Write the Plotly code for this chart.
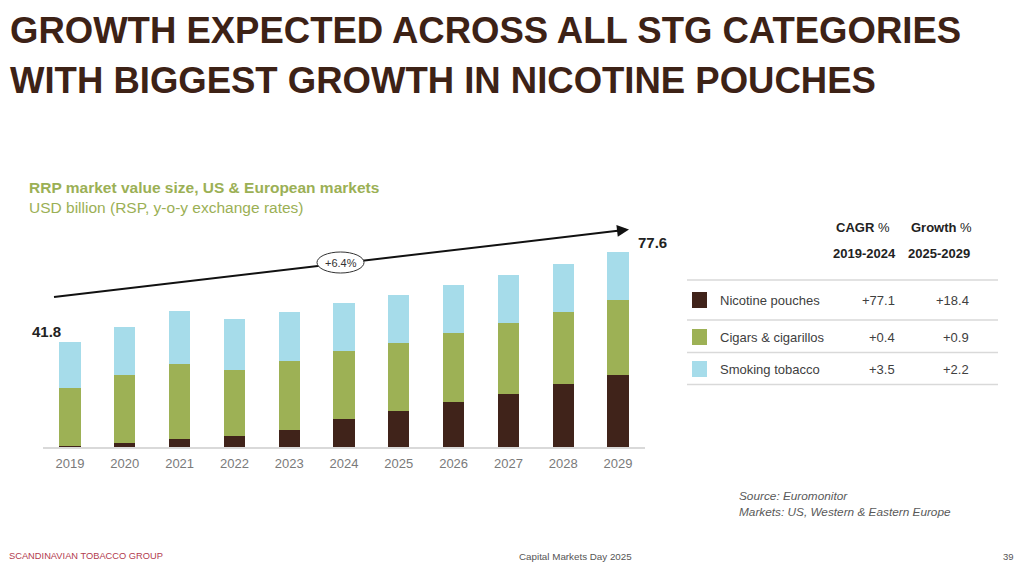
import plotly.graph_objects as go

W, H = 1022, 572

years = ["2019", "2020", "2021", "2022", "2023", "2024", "2025", "2026", "2027", "2028", "2029"]
nicotine = [0.4, 1.5, 3.1, 4.4, 6.9, 11.0, 14.5, 17.8, 21.2, 25.0, 28.8]
cigars = [23.1, 27.2, 29.8, 26.2, 27.4, 27.3, 27.0, 27.7, 28.2, 28.9, 29.6]
smoking = [18.3, 19.1, 21.4, 20.3, 19.6, 19.0, 18.9, 19.0, 19.0, 19.1, 19.2]

categories = ["Nicotine pouches", "Cigars & cigarillos", "Smoking tobacco"]
cagr_2019_2024 = ["+77.1", "+0.4", "+3.5"]
growth_2025_2029 = ["+18.4", "+0.9", "+2.2"]
cagr_label = "+6.4%"

BROWN = "#40231a"
GREEN = "#9db155"
BLUE = "#a6dcea"
colors = [BROWN, GREEN, BLUE]
TITLE_C = "#3d2216"
SUB_C = "#9bb055"
GRAY = "#7a7a7a"
DARK = "#404040"
FONT = "Liberation Sans, Arial, sans-serif"


def fx(px):
    return px / W


def fy(py):
    return 1 - py / H


def text(t, px, py, size, color, xanchor="center", family=FONT):
    return dict(text=t, x=fx(px), y=fy(py), xref="paper", yref="paper", xanchor=xanchor, yanchor="middle",
                showarrow=False, font=dict(family=family, size=size, color=color))


fig = go.Figure()
for name, vals, c in zip(categories, [nicotine, cigars, smoking], colors):
    fig.add_trace(go.Bar(x=years, y=vals, name=name, marker=dict(color=c, line=dict(width=0)),
                         width=0.39, showlegend=False))

totals = [a + b + c for a, b, c in zip(nicotine, cigars, smoking)]

ann = []
shapes = []

# Title
title_lines = ["GROWTH EXPECTED ACROSS ALL STG CATEGORIES", "WITH BIGGEST GROWTH IN NICOTINE POUCHES"]
for i, t in enumerate(title_lines):
    ann.append(text("<b>%s</b>" % t, 8, 30 + i * 50, 36.5, TITLE_C, xanchor="left"))

# Subtitle
ann.append(text("<b>RRP market value size, US & European markets</b>", 27, 188, 15.5, SUB_C, xanchor="left"))
ann.append(text("USD billion (RSP, y-o-y exchange rates)", 27, 207, 15.5, SUB_C, xanchor="left"))

# First / last totals
ann.append(dict(text="<b>%.1f</b>" % totals[0], x=0, y=totals[0], xref="x", yref="y", xanchor="center",
                yanchor="middle", xshift=-24, yshift=11, showarrow=False,
                font=dict(family=FONT, size=15, color="#222")))
ann.append(dict(text="<b>%.1f</b>" % totals[-1], x=len(years) - 1, y=totals[-1], xref="x", yref="y",
                xanchor="center", yanchor="middle", xshift=34, yshift=10, showarrow=False,
                font=dict(family=FONT, size=15, color="#222")))

# CAGR arrow line (paper coordinates)
x0, y0, x1, y1 = 54, 297, 624, 230
shapes.append(dict(type="line", xref="paper", yref="paper", x0=fx(x0), y0=fy(y0), x1=fx(x1), y1=fy(y1),
                   line=dict(color="#111", width=2), layer="above"))
ann.append(dict(text="", x=fx(629), y=fy(229.4), ax=-14, ay=1.7, xref="paper", yref="paper",
                axref="pixel", ayref="pixel", showarrow=True, arrowhead=2, arrowsize=1.2, arrowwidth=2,
                arrowcolor="#111"))
shapes.append(dict(type="circle", xref="paper", yref="paper", x0=fx(317), x1=fx(364), y0=fy(252), y1=fy(273),
                   fillcolor="white", line=dict(color="#333", width=1), layer="above"))
ann.append(text(cagr_label, 340.5, 262.5, 11, "#333"))

# Table
ann.append(text("<b>CAGR</b> %", 863, 228, 13, "#222"))
ann.append(text("<b>Growth</b> %", 941, 228, 13, "#222"))
ann.append(text("<b>2019-2024</b>", 864, 253, 13, "#222"))
ann.append(text("<b>2025-2029</b>", 939, 253, 13, "#222"))

for ly in [280, 320, 352.5, 384.5]:
    shapes.append(dict(type="line", xref="paper", yref="paper", x0=fx(687), x1=fx(998), y0=fy(ly), y1=fy(ly),
                       line=dict(color="#d9d9d9", width=1.5)))

row_y = [300, 337, 369]
for name, c, a, g, ry in zip(categories, colors, cagr_2019_2024, growth_2025_2029, row_y):
    shapes.append(dict(type="rect", xref="paper", yref="paper", x0=fx(692), x1=fx(707), y0=fy(ry - 8), y1=fy(ry + 8),
                       fillcolor=c, line=dict(width=0)))
    ann.append(text(name, 718, ry, 13, DARK, xanchor="left"))
    ann.append(text(a, 897, ry, 13, DARK, xanchor="right"))
    ann.append(text(g, 971, ry, 13, DARK, xanchor="right"))

# Source
ann.append(text("<i>Source: Euromonitor</i>", 737, 496, 11.8, "#595959", xanchor="left"))
ann.append(text("<i>Markets: US, Western & Eastern Europe</i>", 737, 512, 11.8, "#595959", xanchor="left"))

# Footer
ann.append(text("SCANDINAVIAN TOBACCO GROUP", 7, 556, 9.3, "#b23a4e", xanchor="left"))
ann.append(text("Capital Markets Day 2025", 575, 556, 9.8, "#555"))
ann.append(text("39", 1008, 556, 9.5, "#555"))

fig.update_layout(
    barmode="stack",
    width=W, height=H, autosize=False,
    margin=dict(l=0, r=0, t=0, b=0),
    paper_bgcolor="white", plot_bgcolor="white",
    xaxis=dict(domain=[fx(42.6), fx(645.4)], range=[-0.5, 10.5], type="category",
               showline=True, linecolor="#d9d9d9", linewidth=1.5, showgrid=False, ticks="",
               tickfont=dict(family=FONT, size=13, color=GRAY), ticklabelstandoff=4),
    yaxis=dict(domain=[1 - 447 / H, 1 - 196 / H], range=[0, 100], visible=False, showgrid=False),
    annotations=ann,
    shapes=shapes,
    font=dict(family=FONT),
)

fig.write_html("out.html")
